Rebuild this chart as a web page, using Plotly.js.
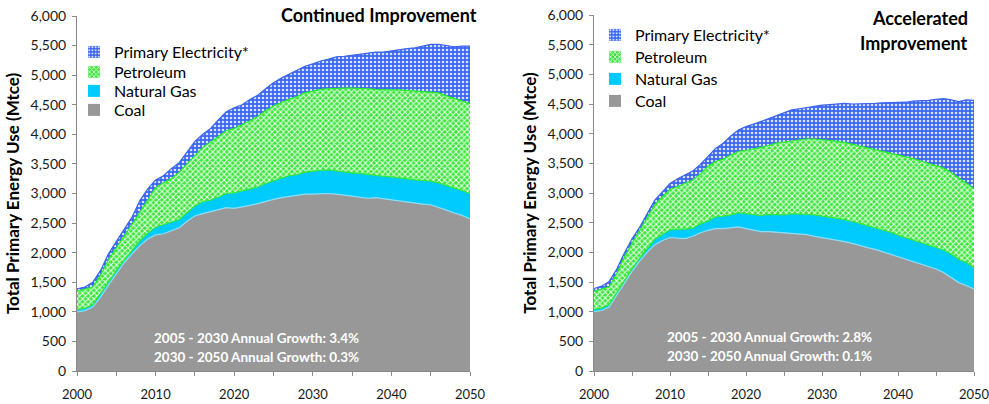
<!DOCTYPE html>
<html>
<head>
<meta charset="utf-8">
<script src="https://cdn.plot.ly/plotly-3.0.1.min.js"></script>
<style>
html,body{margin:0;padding:0;background:#fff;}
#chart{width:989px;height:404px;}
</style>
</head>
<body>
<div id="chart"></div>
<script>
// ---- data ----
var years = [];
for (var yr = 2000; yr <= 2050; yr++) years.push(yr);

var seriesNames = ["Coal", "Natural Gas", "Petroleum", "Primary Electricity*"];

// Continued Improvement (Mtce)
var coalCont = [1000,1020,1080,1250,1450,1650,1830,1980,2120,2230,
  2300,2320,2370,2420,2530,2620,2660,2690,2720,2760,
  2750,2770,2800,2830,2870,2900,2930,2950,2970,2990,
  2990,3000,3000,2990,2970,2960,2940,2920,2930,2910,
  2890,2880,2860,2840,2820,2810,2770,2720,2670,2630,
  2570];
var gasCont = [40,40,40,50,50,50,50,60,80,100,
  130,150,140,140,150,170,200,200,220,240,
  260,270,270,280,300,320,330,350,350,370,
  390,390,400,390,400,390,400,400,370,380,
  390,380,390,390,400,400,410,410,420,420,
  430];
var petroCont = [310,320,300,320,380,380,410,440,480,570,
  670,710,740,800,820,860,920,980,1030,1060,
  1090,1120,1160,1190,1230,1260,1280,1290,1320,1340,
  1350,1370,1370,1400,1410,1430,1440,1450,1460,1460,
  1470,1490,1490,1500,1510,1510,1520,1520,1520,1520,
  1520];
var elecCont = [40,40,80,80,100,100,110,120,200,180,
  130,120,170,160,200,230,220,230,280,320,
  350,340,360,360,370,390,410,430,450,450,
  460,480,500,530,540,560,570,600,630,640,
  660,690,710,730,760,800,820,850,870,920,
  970];

// Accelerated Improvement (Mtce)
var coalAcc = [1000,1020,1080,1280,1480,1680,1850,2000,2130,2200,
  2250,2240,2230,2270,2330,2370,2400,2400,2420,2430,
  2400,2370,2350,2350,2340,2340,2330,2320,2300,2270,
  2250,2220,2200,2180,2150,2110,2080,2050,2010,1970,
  1930,1890,1850,1800,1760,1720,1660,1580,1490,1440,
  1380];
var gasAcc = [40,40,40,40,50,40,50,60,90,100,
  130,150,160,140,150,160,200,210,210,240,
  250,270,270,290,300,290,320,330,340,360,
  360,380,370,370,370,380,370,360,370,370,
  360,360,360,370,370,370,380,390,390,390,
  360];
var petroAcc = [300,320,300,320,390,430,460,520,580,640,
  680,720,780,810,840,920,930,960,1010,1030,
  1070,1100,1150,1160,1200,1230,1230,1250,1270,1280,
  1290,1290,1300,1300,1300,1300,1320,1330,1330,1340,
  1360,1370,1370,1370,1370,1370,1380,1370,1370,1340,
  1330];
var elecAcc = [50,50,90,80,70,80,60,60,80,80,
  100,130,130,150,160,170,220,270,320,360,
  400,420,440,460,460,500,520,520,530,560,
  580,600,630,660,680,710,740,770,810,840,
  870,910,970,1010,1060,1120,1170,1230,1290,1400,
  1490];

var chartTitles = ["Continued Improvement", "Accelerated", "Improvement"];
var growthNotes = [
  ["2005 - 2030 Annual Growth: 3.4%", "2030 - 2050 Annual Growth: 0.3%"],
  ["2005 - 2030 Annual Growth: 2.8%", "2030 - 2050 Annual Growth: 0.1%"]
];
var yTitle = "Total Primary Energy Use (Mtce)";

// ---- styles ----
var FONT = "Lato, 'Open Sans', sans-serif";
var styles = [
  {fill: "#989898", line: "#8fdcf5", pattern: null},
  {fill: "#00cbff", line: "#2ee83a", pattern: null},
  {fill: "#3ce43c", line: "#22f022", pattern: {shape: "x", bgcolor: "#3ce43c", fgcolor: "#eaffea", size: 4, solidity: 0.45}},
  {fill: "#3a66f0", line: "#3a62ee", pattern: {shape: ".", bgcolor: "#3a66f0", fgcolor: "#d6e2ff", size: 4, solidity: 0.35}}
];

var traces = [];
var legends = {};
var legendCount = 0;
// legendRows: pixel y of each series' legend row (coal, gas, petroleum, electricity)
function addChart(data, xa, ya, legendX, legendRows) {
  data.forEach(function (vals, i) {
    var s = styles[i];
    var t = {
      type: "scatter", mode: "lines", x: years, y: vals,
      xaxis: xa, yaxis: ya, stackgroup: "s" + xa,
      line: {color: s.line, width: 1.2, shape: "linear"},
      fillcolor: s.fill, showlegend: false, hoverinfo: "skip", name: seriesNames[i]
    };
    if (s.pattern) t.fillpattern = s.pattern;
    traces.push(t);
  });
  // legend entries (square icons), one legend box per entry
  data.forEach(function (vals, i) {
    var s = styles[i];
    legendCount++;
    var id = legendCount === 1 ? "legend" : "legend" + legendCount;
    legends[id] = {
      x: legendX / 989, y: 1 - legendRows[i] / 404, xanchor: "left", yanchor: "middle",
      bgcolor: "rgba(0,0,0,0)", font: {family: FONT, size: 16, color: "#000"},
      itemclick: false, itemdoubleclick: false
    };
    var m = {color: s.fill, line: {width: 0}};
    if (s.pattern) m.pattern = {shape: s.pattern.shape, bgcolor: s.pattern.bgcolor, fgcolor: s.pattern.fgcolor, size: 4, solidity: s.pattern.solidity};
    traces.push({
      type: "bar", x: [null], y: [null], xaxis: xa, yaxis: ya,
      name: seriesNames[i], marker: m, legend: id, hoverinfo: "skip"
    });
  });
}
addChart([coalCont, gasCont, petroCont, elecCont], "x", "y", 74, [110, 91, 72, 52]);
addChart([coalAcc, gasAcc, petroAcc, elecAcc], "x2", "y2", 595, [101, 79, 57, 35]);

function xaxisDef(domain, anchor) {
  return {
    domain: domain, anchor: anchor, range: [2000, 2050], dtick: 10, tick0: 2000,
    showgrid: false, zeroline: false, showline: true, linecolor: "#8a8a8a", linewidth: 1,
    ticks: "outside", ticklen: 4, tickcolor: "#8a8a8a", ticklabeloverflow: "allow",
    minor: {dtick: 5, ticks: "outside", ticklen: 4, tickcolor: "#8a8a8a", showgrid: false},
    tickfont: {family: FONT, size: 13, color: "#1a1a1a"}, ticklabelstandoff: 7, fixedrange: true
  };
}
function yaxisDef(domain, anchor) {
  return {
    domain: domain, anchor: anchor, range: [0, 6000], dtick: 500, tickformat: ",d",
    showgrid: false, zeroline: false, showline: true, linecolor: "#8a8a8a", linewidth: 1,
    ticks: "outside", ticklen: 4, tickcolor: "#8a8a8a",
    tickfont: {family: FONT, size: 14, color: "#1a1a1a"}, ticklabelstandoff: 3,
    title: {text: yTitle, font: {family: FONT, size: 17, color: "#000", weight: "bold"}, standoff: 6},
    fixedrange: true
  };
}

var ann = [];
function note(text, x, y, xanchor, size, color) {
  ann.push({text: text, xref: "paper", yref: "paper", x: x / 989, y: 1 - y / 404,
    xanchor: xanchor, yanchor: "middle", showarrow: false,
    font: {family: FONT, size: size, color: color, weight: "bold"}});
}
note(chartTitles[0], 479, 15, "right", 18, "#000");
note(chartTitles[1], 970, 18, "right", 18, "#000");
note(chartTitles[2], 970, 43, "right", 18, "#000");
note(growthNotes[0][0], 152, 338, "left", 13.5, "#fff");
note(growthNotes[0][1], 152, 357, "left", 13.5, "#fff");
note(growthNotes[1][0], 665, 337, "left", 13.5, "#fff");
note(growthNotes[1][1], 665, 356, "left", 13.5, "#fff");

var layout = {
  width: 989, height: 404, margin: {l: 0, r: 0, t: 0, b: 0},
  paper_bgcolor: "#fff", plot_bgcolor: "rgba(0,0,0,0)",
  font: {family: FONT, color: "#000"},
  xaxis: xaxisDef([77 / 989, 470 / 989], "y"),
  yaxis: yaxisDef([33 / 404, 388 / 404], "x"),
  xaxis2: xaxisDef([594 / 989, 974 / 989], "y2"),
  yaxis2: yaxisDef([33 / 404, 389 / 404], "x2"),
  annotations: ann,
  showlegend: true
};
for (var k in legends) layout[k] = legends[k];

Plotly.newPlot("chart", traces, layout, {displayModeBar: false, staticPlot: true});
</script>
</body>
</html>
